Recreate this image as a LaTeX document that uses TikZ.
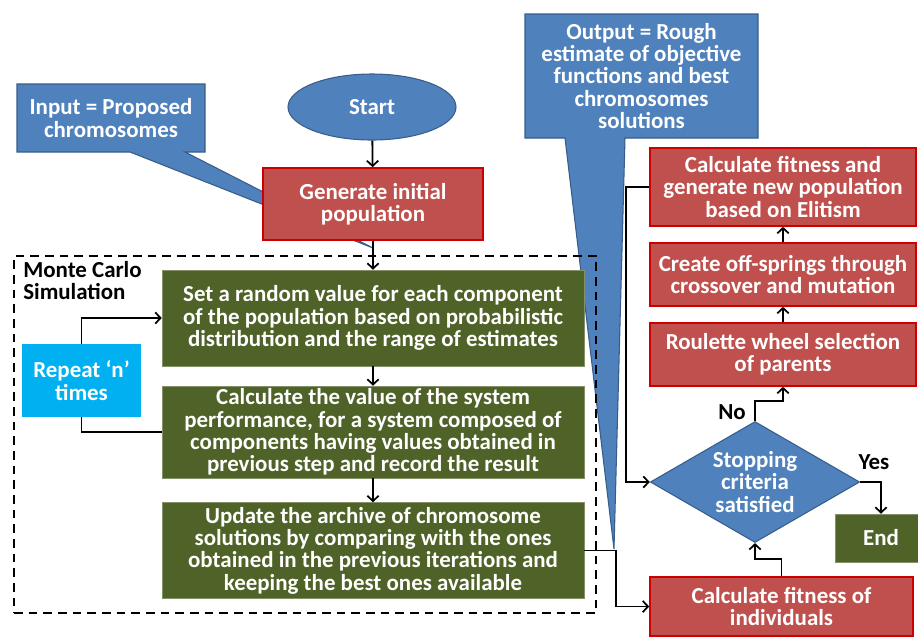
\documentclass[tikz,border=0pt]{standalone}
\usepackage{fontspec}
\setmainfont{Carlito}
\usetikzlibrary{shapes.geometric,arrows.meta}
\definecolor{cblue}{HTML}{4F81BD}
\definecolor{cblueb}{HTML}{385D8A}
\definecolor{cred}{HTML}{C0504D}
\definecolor{credb}{HTML}{CC0000}
\definecolor{cgreen}{HTML}{4F6228}
\definecolor{ccyan}{HTML}{00B0F0}
\tikzset{
  txt/.style={text=white, font=\fontsize{17.2}{16.8}\selectfont\bfseries, align=center, inner sep=0pt},
  blk/.style={text=black, font=\fontsize{17.2}{16.8}\selectfont\bfseries, inner sep=0pt},
  redbox/.style={txt, fill=cred, draw=credb, line width=1.2pt},
  greenbox/.style={txt, fill=cgreen, draw=cgreen!70!white, line width=0.4pt},
  callout/.style={fill=cblue, draw=cblueb, line width=0.8pt, line join=miter},
  arr/.style={line width=1.35pt, -{Straight Barb[length=4pt,width=8.5pt,line width=1.3pt]}},
  ln/.style={line width=1.35pt},
}
\begin{document}
\begin{tikzpicture}[x=0.75pt,y=-0.75pt]
\useasboundingbox (0,0) rectangle (918,637);
% callouts
\draw[callout] (17,84) -- (205,84) -- (205,152) -- (185,152) -- (373,248) -- (130,152) -- (17,152) -- cycle;
\node[txt] (inp) at (111,118) {Input = Proposed\\chromosomes};
\draw[callout] (525,14) -- (758,14) -- (758,138) -- (625,138) -- (614,549) -- (565,138) -- (525,138) -- cycle;
\node[txt] (outp) at (641.5,76) {Output = Rough\\estimate of objective\\functions and best\\chromosomes\\solutions};
% left flow
\node[txt, ellipse, fill=cblue, draw=cblueb, line width=0.8pt, minimum width=126pt, minimum height=49.5pt] (start) at (372,107) {Start};
\node[redbox, minimum width=165pt, minimum height=54pt] (gen) at (373,204) {Generate initial\\population};
\node[draw, dashed, line width=1.3pt, dash pattern=on 6.5pt off 4.5pt, minimum width=436.5pt, minimum height=267.75pt, inner sep=0pt] (mc) at (305,434.5) {};
\node[blk, anchor=north west, align=left] (mclab) at (23,261) {Monte Carlo\\Simulation};
\node[greenbox, minimum width=316.5pt, minimum height=72pt] (g1) at (373,318) {Set a random value for each component\\of the population based on probabilistic\\distribution and the range of estimates};
\node[greenbox, minimum width=316.5pt, minimum height=69pt] (g2) at (373,432) {Calculate the value of the system\\performance, for a system composed of\\components having values obtained in\\previous step and record the result};
\node[greenbox, minimum width=316.5pt, minimum height=72pt] (g3) at (373,550.5) {Update the archive of chromosome\\solutions by comparing with the ones\\obtained in the previous iterations and\\keeping the best ones available};
\node[txt, fill=ccyan, minimum width=89.25pt, minimum height=54.75pt] (rep) at (81.5,380.5) {Repeat ‘n’\\times};
% right flow
\node[redbox, minimum width=199.5pt, minimum height=58.5pt] (elit) at (783,187) {Calculate fitness and\\generate new population\\based on Elitism};
\node[redbox, minimum width=199.5pt, minimum height=47.25pt] (off) at (783,274.5) {Create off-springs through\\crossover and mutation};
\node[redbox, minimum width=199.5pt, minimum height=47.25pt] (roul) at (783,354.5) {Roulette wheel selection\\of parents};
\node[diamond, fill=cblue, draw=cblueb, line width=0.8pt, minimum width=157pt, minimum height=90.75pt, inner sep=0pt] (dia) at (755,482) {};
\node[txt] (diatxt) at (dia.center) {Stopping\\criteria\\satisfied};
\node[greenbox, minimum width=69pt, minimum height=36pt] (end) at (881,538) {End};
\node[redbox, minimum width=197.25pt, minimum height=44.25pt] (fit) at (781.5,606.5) {Calculate fitness of\\individuals};
\node[blk] (no) at (732,412) {No};
\node[blk] (yes) at (874,462) {Yes};
% connectors
\draw[arr] (start) -- (gen);
\draw[arr] (gen) -- (g1);
\draw[arr] (g1) -- (g2);
\draw[arr] (g2) -- (g3);
\draw[arr] (rep.north) |- (g1.west);
\draw[ln] (g2.west) -| (rep.south);
\draw[arr] (g3.east) -- ++(32,0) |- (fit.west);
\draw[arr] (fit.north) -- ++(0,-17) -| (dia.south);
\draw[arr] (dia.north) -- ++(0,-20) -| (roul.south);
\draw[arr] (dia.east) -| (end.north);
\draw[arr] (roul) -- (off);
\draw[arr] (off) -- (elit);
\draw[arr] (elit.west) -- ++(-23,0) |- (dia.west);
\end{tikzpicture}
\end{document}
